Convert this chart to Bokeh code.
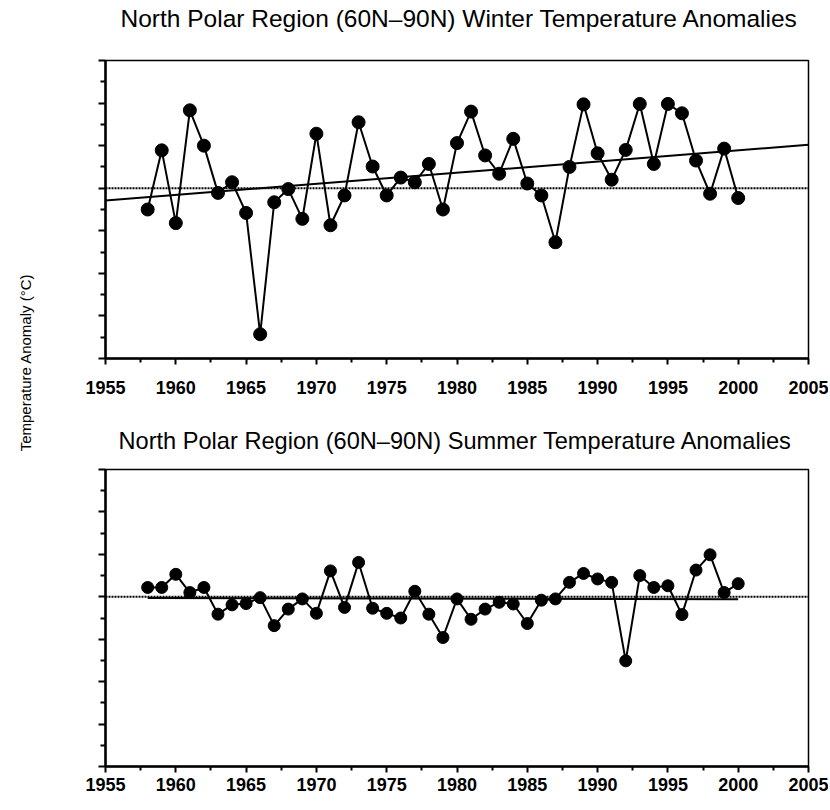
from bokeh.plotting import figure
from bokeh.models import FixedTicker, Range1d, Span
from bokeh.layouts import row, column
from bokeh.embed import file_html
from bokeh.resources import INLINE
from bokeh.core.properties import value

# ---------------- data ----------------
years = list(range(1958, 2001))
winter = [-0.50, 0.89, -0.82, 1.83, 1.00, -0.11, 0.14, -0.58, -3.43, -0.33,
          -0.02, -0.72, 1.28, -0.87, -0.17, 1.55, 0.51, -0.17, 0.25, 0.14,
          0.57, -0.50, 1.06, 1.80, 0.77, 0.34, 1.16, 0.11, -0.17, -1.27,
          0.50, 1.97, 0.82, 0.20, 0.90, 1.98, 0.57, 1.98, 1.76, 0.65,
          -0.13, 0.93, -0.23]
summer = [0.22, 0.22, 0.53, 0.10, 0.22, -0.41, -0.19, -0.16, -0.02, -0.68,
          -0.29, -0.05, -0.39, 0.61, -0.25, 0.81, -0.27, -0.39, -0.50, 0.13,
          -0.41, -0.96, -0.05, -0.53, -0.29, -0.13, -0.17, -0.63, -0.08, -0.05,
          0.34, 0.55, 0.42, 0.34, -1.51, 0.50, 0.22, 0.26, -0.42, 0.63,
          0.99, 0.10, 0.31]
winter_trend_years = [1955, 2005]
winter_trend_vals = [-0.29, 1.02]
summer_trend_years = [1958, 2000]
summer_trend_vals = [-0.03, -0.06]

x_ticks = [1955, 1960, 1965, 1970, 1975, 1980, 1985, 1990, 1995, 2000, 2005]
x_minor = [1957.5, 1962.5, 1967.5, 1972.5, 1977.5, 1982.5, 1987.5, 1992.5, 1997.5, 2002.5]
y_ticks = [-4, -3, -2, -1, 0, 1, 2, 3]
y_minor = [-3.5, -2.5, -1.5, -0.5, 0.5, 1.5, 2.5]

titles = ["North Polar Region (60N\u201390N) Winter Temperature Anomalies",
          "North Polar Region (60N\u201390N) Summer Temperature Anomalies"]
ylabel = "Temperature Anomaly (\u00b0C)"

FONT = "Liberation Sans"
PW = 770          # width of the plot column
LW = 58           # width of the y-label strip
FL, FR = 105, 808  # frame left / right in page pixels


def blank_fig(width, height, x0=0, x1=None):
    f = figure(width=width, height=height, output_backend="svg", toolbar_location=None,
               x_range=Range1d(x0, width if x1 is None else x1),
               y_range=Range1d(height, 0), min_border=0,
               x_axis_location=None, y_axis_location=None)
    f.grid.visible = False
    f.outline_line_color = None
    f.background_fill_color = "white"
    f.border_fill_color = "white"
    return f


def title_fig(text, height, xpos, ypos, fsize):
    # inside a column the frame is aligned with the plots' frame (FL..FR)
    t = blank_fig(PW, height, FL, FR)
    t.text(x=[xpos], y=[ypos], text=[text], text_align="left",
           text_baseline="middle", text_font=value(FONT), text_font_size=fsize,
           text_color="black")
    return t


def make_panel(vals, tyears, tvals, height, btop, bbottom, label_standoff, msize):
    p = figure(width=PW, height=height, output_backend="svg", toolbar_location=None,
               x_range=Range1d(1955, 2005), y_range=Range1d(-4, 3),
               min_border_left=FL - LW, min_border_right=PW - (FL - LW) - (FR - FL),
               min_border_top=btop, min_border_bottom=bbottom)
    p.xgrid.visible = False
    p.ygrid.visible = False
    p.background_fill_color = "white"
    p.border_fill_color = "white"
    p.outline_line_color = "black"
    p.outline_line_width = 1.5
    p.outline_line_alpha = 1.0

    xa = p.xaxis[0]
    xa.ticker = FixedTicker(ticks=x_ticks, minor_ticks=x_minor)
    xa.axis_line_width = 2.5
    xa.axis_line_color = "black"
    xa.major_tick_out = 6
    xa.major_tick_in = 0
    xa.minor_tick_out = 4
    xa.minor_tick_in = 0
    xa.major_tick_line_width = 2
    xa.minor_tick_line_width = 2
    xa.major_label_text_font = FONT
    xa.major_label_text_font_size = "18px"
    xa.major_label_text_font_style = "bold"
    xa.major_label_text_color = "black"
    xa.major_label_standoff = label_standoff

    ya = p.yaxis[0]
    ya.ticker = FixedTicker(ticks=y_ticks, minor_ticks=y_minor)
    ya.axis_line_width = 2.5
    ya.axis_line_color = "black"
    ya.major_tick_out = 7
    ya.major_tick_in = 0
    ya.minor_tick_out = 5
    ya.minor_tick_in = 0
    ya.major_tick_line_width = 2
    ya.minor_tick_line_width = 2
    ya.major_label_text_font_size = "0px"
    ya.major_label_text_alpha = 0

    p.add_layout(Span(location=0, dimension="width", line_color="black",
                      line_dash="2 1", line_width=2))
    p.line(tyears, tvals, line_color="black", line_width=2)
    p.line(years, vals, line_color="black", line_width=2)
    p.scatter(years, vals, size=msize, fill_color="black", line_color="black")
    return p


t1 = title_fig(titles[0], 45, 120, 18, "24.5px")
p1 = make_panel(winter, winter_trend_years, winter_trend_vals, 360, 15, 47, 16, 13)
t2 = title_fig(titles[1], 50, 118, 35, "23.6px")
p2 = make_panel(summer, summer_trend_years, summer_trend_vals, 343, 14, 32, 5, 12)

H = 798
lab = blank_fig(LW, H)
lab.text(x=[25], y=[362], text=[ylabel], angle=1.5707963,
         text_align="center", text_baseline="middle",
         text_font=value(FONT), text_font_size="15px", text_color="black")

layout = row(lab, column(t1, p1, t2, p2))

open("out.html", "w").write(file_html(layout, INLINE))
